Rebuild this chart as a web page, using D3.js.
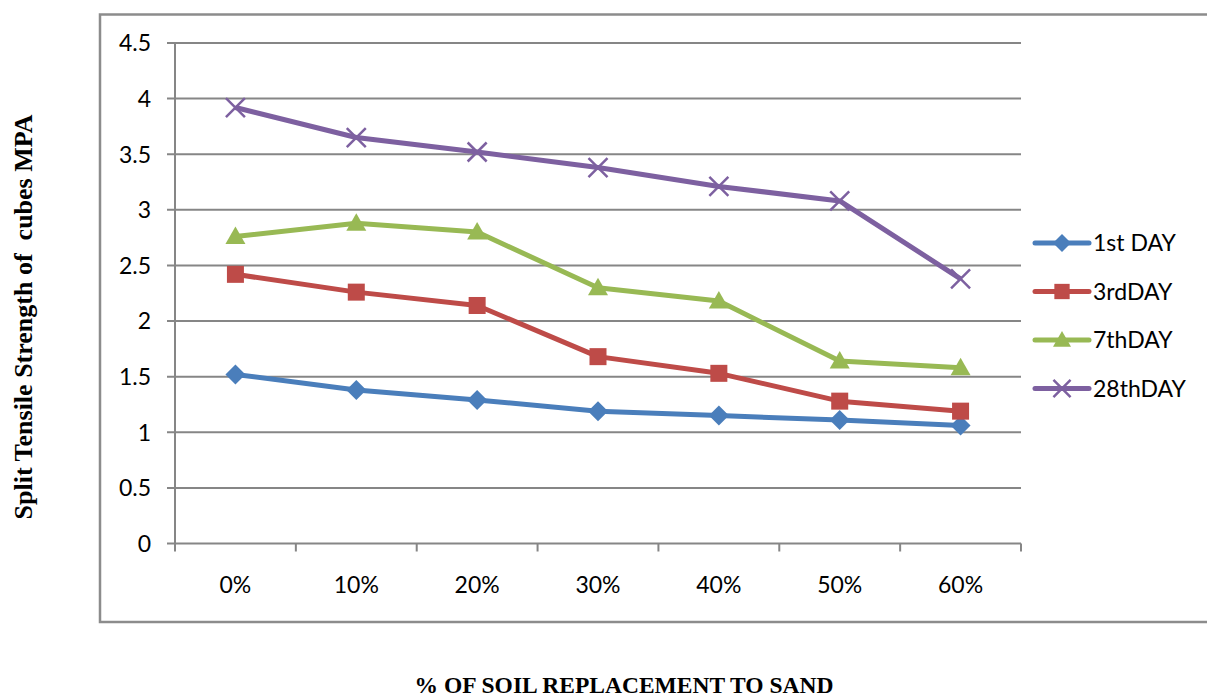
<!DOCTYPE html>
<html>
<head>
<meta charset="utf-8">
<script src="https://cdn.jsdelivr.net/npm/d3@7"></script>
<style>
  body { margin: 0; background: #fff; }
  svg { display: block; }
</style>
</head>
<body>
<div id="chart"></div>
<script>
const categories = ['0%', '10%', '20%', '30%', '40%', '50%', '60%'];
const seriesNames = ['1st DAY', '3rdDAY', '7thDAY', '28thDAY'];
const day1 = [1.52, 1.38, 1.29, 1.19, 1.15, 1.11, 1.06];
const day3 = [2.42, 2.26, 2.14, 1.68, 1.53, 1.28, 1.19];
const day7 = [2.76, 2.88, 2.80, 2.30, 2.18, 1.64, 1.58];
const day28 = [3.92, 3.65, 3.52, 3.38, 3.21, 3.08, 2.38];
const yTicks = [0, 0.5, 1, 1.5, 2, 2.5, 3, 3.5, 4, 4.5];

const colors = ['#4a7ebb', '#be4b48', '#98b954', '#7d60a0'];
const markers = ['diamond', 'square', 'triangle', 'cross'];
const series = [day1, day3, day7, day28].map((values, i) => ({
    name: seriesNames[i], values, color: colors[i], marker: markers[i]
}));

const width = 1207, height = 698;
const plot = {left: 175, right: 1021, top: 43, bottom: 543.5};
const sansFont = "Lato, 'Liberation Sans', Arial, sans-serif";
const serifFont = "'Liberation Serif', 'Times New Roman', serif";

const svg = d3.select('#chart').append('svg')
    .attr('width', width)
    .attr('height', height);

// outer chart border (runs off the right edge like the original)
svg.append('rect')
    .attr('x', 100).attr('y', 14.5)
    .attr('width', 1130).attr('height', 607.5)
    .attr('fill', 'none')
    .attr('stroke', '#8c8c8c')
    .attr('stroke-width', 2.5);

const x = d3.scaleBand()
    .domain(categories)
    .range([plot.left, plot.right]);

const y = d3.scaleLinear()
    .domain([0, 4.5])
    .range([plot.bottom, plot.top]);

// gridlines
svg.append('g')
    .selectAll('line')
    .data(yTicks)
    .join('line')
        .attr('x1', plot.left - 8)
        .attr('x2', plot.right)
        .attr('y1', d => y(d))
        .attr('y2', d => y(d))
        .attr('stroke', '#868686')
        .attr('stroke-width', 2);

// y axis line and labels
svg.append('line')
    .attr('x1', plot.left).attr('x2', plot.left)
    .attr('y1', plot.top).attr('y2', plot.bottom)
    .attr('stroke', '#868686')
    .attr('stroke-width', 2);

svg.append('g')
    .selectAll('text')
    .data(yTicks)
    .join('text')
        .attr('x', plot.left - 24)
        .attr('y', d => y(d))
        .attr('dy', '0.36em')
        .attr('text-anchor', 'end')
        .style('font-family', sansFont)
        .style('font-size', '23px')
        .text(d => d);

// x axis ticks (between categories) and labels
const xTickPos = categories.map(c => x(c)).concat([plot.right]);
svg.append('g')
    .selectAll('line')
    .data(xTickPos)
    .join('line')
        .attr('x1', d => d).attr('x2', d => d)
        .attr('y1', plot.bottom).attr('y2', plot.bottom + 8)
        .attr('stroke', '#868686')
        .attr('stroke-width', 2);

svg.append('g')
    .selectAll('text')
    .data(categories)
    .join('text')
        .attr('x', d => x(d) + x.bandwidth() / 2)
        .attr('y', 585)
        .attr('dy', '0.36em')
        .attr('text-anchor', 'middle')
        .style('font-family', sansFont)
        .style('font-size', '23px')
        .text(d => d);

function drawMarker(g, type, color, s) {
    if (type === 'diamond') {
        g.append('path')
            .attr('d', `M0,${-s}L${s},0L0,${s}L${-s},0Z`)
            .attr('fill', color);
    } else if (type === 'square') {
        g.append('rect')
            .attr('x', -s * 0.85).attr('y', -s * 0.85)
            .attr('width', s * 1.7).attr('height', s * 1.7)
            .attr('fill', color);
    } else if (type === 'triangle') {
        g.append('path')
            .attr('d', `M0,${-s}L${s},${s * 0.75}L${-s},${s * 0.75}Z`)
            .attr('fill', color);
    } else {
        const c = s * 0.95;
        g.append('path')
            .attr('d', `M${-c},${-c}L${c},${c}M${-c},${c}L${c},${-c}`)
            .attr('stroke', color)
            .attr('stroke-width', 2.5)
            .attr('fill', 'none');
    }
}

const line = d3.line()
    .x((d, i) => x(categories[i]) + x.bandwidth() / 2)
    .y(d => y(d));

series.forEach(s => {
    const g = svg.append('g');
    g.append('path')
        .datum(s.values)
        .attr('d', line)
        .attr('fill', 'none')
        .attr('stroke', s.color)
        .attr('stroke-width', 5)
        .attr('stroke-linejoin', 'round');
    s.values.forEach((v, i) => {
        const m = g.append('g')
            .attr('transform', `translate(${x(categories[i]) + x.bandwidth() / 2},${y(v)})`);
        drawMarker(m, s.marker, s.color, 10);
    });
});

// legend
const legend = svg.append('g');
series.forEach((s, i) => {
    const ly = 243 + i * 48.5;
    const row = legend.append('g').attr('transform', `translate(1035,${ly})`);
    row.append('line')
        .attr('x1', 0).attr('x2', 54)
        .attr('y1', 0).attr('y2', 0)
        .attr('stroke', s.color)
        .attr('stroke-width', 5)
        .attr('stroke-linecap', 'round');
    drawMarker(row.append('g').attr('transform', 'translate(27,0)'), s.marker, s.color, 9);
    row.append('text')
        .attr('x', 58)
        .attr('y', 0)
        .attr('dy', '0.36em')
        .style('font-family', sansFont)
        .style('font-size', '23px')
        .text(s.name);
});

// axis titles
svg.append('text')
    .attr('transform', 'translate(32,317) rotate(-90)')
    .attr('text-anchor', 'middle')
    .style('font-family', serifFont)
    .style('font-weight', 'bold')
    .style('font-size', '26px')
    .style('white-space', 'pre')
    .text('Split Tensile Strength of  cubes MPA');

svg.append('text')
    .attr('x', 624)
    .attr('y', 693)
    .attr('text-anchor', 'middle')
    .style('font-family', serifFont)
    .style('font-weight', 'bold')
    .style('font-size', '23.5px')
    .text('% OF SOIL REPLACEMENT TO SAND');
</script>
</body>
</html>
